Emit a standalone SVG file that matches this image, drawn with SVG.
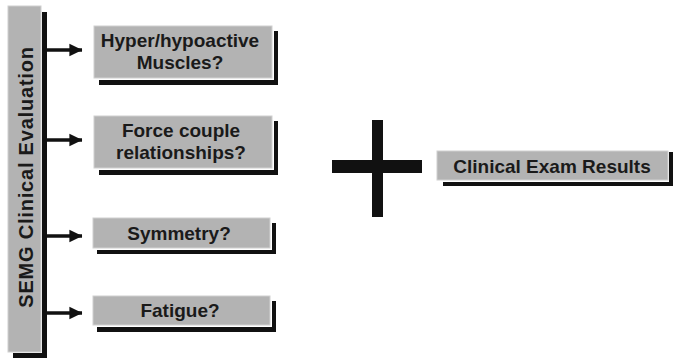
<svg xmlns="http://www.w3.org/2000/svg" width="673" height="358" viewBox="0 0 673 358">
<style>
.box{fill:#b3b3b3;stroke:#d0d0d0;stroke-width:1}
.sh{fill:#111}
.t{font-family:"Liberation Sans",Arial,sans-serif;font-weight:bold;font-size:19px;fill:#1a1a1a;text-anchor:middle}
.ln{stroke:#111;stroke-width:3.5;fill:none}
</style>
<defs>
<marker id="ah" markerWidth="4" markerHeight="4" refX="3.6" refY="2" orient="auto" markerUnits="strokeWidth">
<path d="M0,0.2 L3.7,2 L0,3.8 Z" fill="#111"/>
</marker>
</defs>
<rect width="673" height="358" fill="#fff"/>
<g id="semg">
<rect class="sh" x="42" y="12" width="5" height="346"/>
<rect class="sh" x="13" y="353" width="34" height="5"/>
<rect class="box" x="8" y="6" width="33" height="346"/>
<text class="t" style="font-size:20px;letter-spacing:0.8px" transform="translate(33,177) rotate(-90)">SEMG Clinical Evaluation</text>
</g>
<g id="connectors">
<line class="ln" x1="47" y1="50" x2="82" y2="50" marker-end="url(#ah)"/>
<line class="ln" x1="47" y1="140" x2="82" y2="140" marker-end="url(#ah)"/>
<line class="ln" x1="47" y1="236" x2="82" y2="236" marker-end="url(#ah)"/>
<line class="ln" x1="47" y1="313" x2="82" y2="313" marker-end="url(#ah)"/>
</g>
<g id="n1">
<rect class="sh" x="274" y="31" width="4" height="54"/>
<rect class="sh" x="99" y="80" width="179" height="5"/>
<rect class="box" x="94" y="26" width="178" height="52"/>
<text class="t" x="180" y="47">Hyper/hypoactive</text>
<text class="t" x="180" y="69">Muscles?</text>
</g>
<g id="n2">
<rect class="sh" x="274" y="121" width="4" height="54"/>
<rect class="sh" x="99" y="170" width="179" height="5"/>
<rect class="box" x="94" y="116" width="178" height="52"/>
<text class="t" x="181" y="137">Force couple</text>
<text class="t" x="181" y="159">relationships?</text>
</g>
<g id="n3">
<rect class="sh" x="272" y="223" width="4" height="31"/>
<rect class="sh" x="97" y="250" width="179" height="4"/>
<rect class="box" x="93" y="218" width="177" height="30"/>
<text class="t" x="179" y="240">Symmetry?</text>
</g>
<g id="n4">
<rect class="sh" x="272" y="301" width="4" height="31"/>
<rect class="sh" x="97" y="327" width="179" height="5"/>
<rect class="box" x="93" y="296" width="177" height="29"/>
<text class="t" x="180" y="317">Fatigue?</text>
</g>
<g id="plus">
<rect class="sh" x="372" y="120" width="11" height="97"/>
<rect class="sh" x="332" y="160" width="90" height="13"/>
</g>
<g id="n5">
<rect class="sh" x="669" y="152" width="4" height="34"/>
<rect class="sh" x="443" y="182" width="230" height="4"/>
<rect class="box" x="437" y="151" width="231" height="29"/>
<text class="t" x="552" y="173">Clinical Exam Results</text>
</g>
</svg>
